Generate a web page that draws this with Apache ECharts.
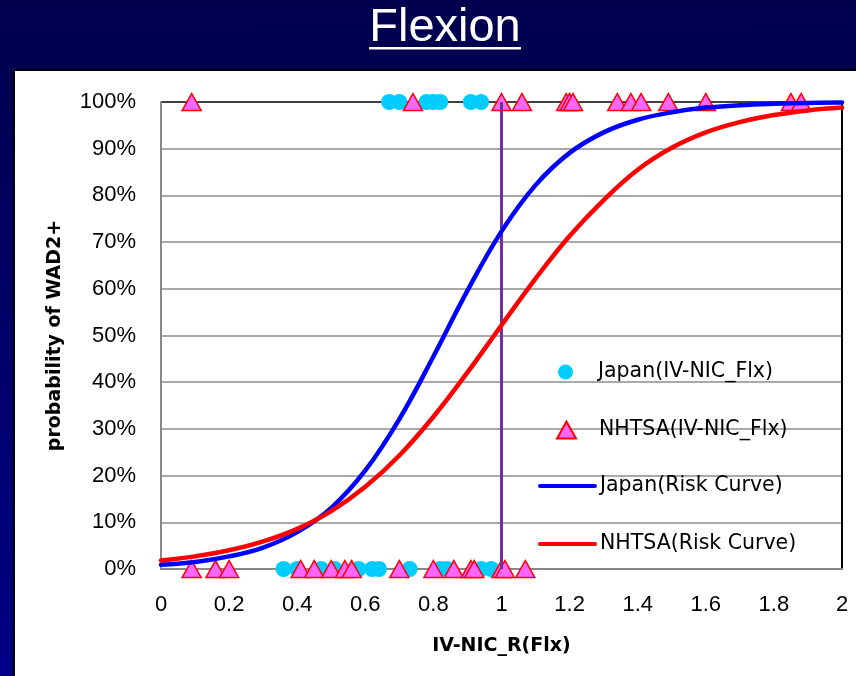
<!DOCTYPE html>
<html>
<head>
<meta charset="utf-8">
<script src="https://cdn.jsdelivr.net/npm/echarts@6/dist/echarts.min.js"></script>
<style>
  html, body { margin: 0; padding: 0; }
  #chart { width: 856px; height: 676px; background: linear-gradient(#00004d, #000086); }
</style>
</head>
<body>
<div id="chart"></div>
<script>
// ---- data ----
const titleText = 'Flexion';
const xAxisName = 'IV-NIC_R(Flx)';
const yAxisName = 'probability of WAD2+';
const seriesNames = ['Japan(IV-NIC_Flx)', 'NHTSA(IV-NIC_Flx)', 'Japan(Risk Curve)', 'NHTSA(Risk Curve)'];

// observed cases (x = IV-NIC_R, y = 1 injured / 0 not injured)
const japanAt100 = [0.67, 0.70, 0.78, 0.80, 0.82, 0.91, 0.94];
const japanAt0   = [0.36, 0.40, 0.47, 0.51, 0.58, 0.62, 0.64, 0.73, 0.82, 0.84, 0.94, 0.97];
const nhtsaAt100 = [0.09, 0.74, 1.00, 1.06, 1.19, 1.20, 1.21, 1.34, 1.38, 1.41, 1.49, 1.60, 1.85, 1.88];
const nhtsaAt0   = [0.09, 0.16, 0.20, 0.41, 0.45, 0.50, 0.54, 0.56, 0.70, 0.80, 0.86, 0.91, 0.92, 1.00, 1.01, 1.07];

// risk curves read at these x positions
const curveX     = [0, 0.1, 0.2, 0.3, 0.4, 0.5, 0.6, 0.7, 0.8, 0.9, 1.0, 1.1, 1.2, 1.3, 1.4, 1.5, 1.6, 1.7, 1.8, 1.9, 2.0];
const japanCurve = [0.009, 0.015, 0.027, 0.046, 0.079, 0.131, 0.211, 0.321, 0.455, 0.596, 0.723, 0.822, 0.891, 0.935, 0.962, 0.978, 0.988, 0.993, 0.996, 0.998, 0.999];
const nhtsaCurve = [0.018, 0.027, 0.040, 0.059, 0.086, 0.124, 0.176, 0.243, 0.326, 0.421, 0.522, 0.622, 0.713, 0.790, 0.855, 0.902, 0.935, 0.957, 0.972, 0.982, 0.988];

// reference line at IV-NIC_R = 1
const refLineX = 1;
const refLineY = [0, 1];

// ---- build chart ----
const pts = (xs, y) => xs.map(x => [x, y]);
const pair = (xs, ys) => xs.map((x, i) => [x, ys[i]]);

const chart = echarts.init(document.getElementById('chart'), null, { renderer: 'canvas' });

const legendText = { color: '#000', fontFamily: 'DejaVu Sans', fontSize: 20.5, lineHeight: 22 };
function legendAt(item, left, centerY, h, extra) {
  return Object.assign({
    data: [item], left: left, top: centerY - 11, padding: 0,
    itemWidth: 55, itemHeight: h, selectedMode: false,
    textStyle: legendText,
    lineStyle: { width: 4, cap: 'round' }
  }, extra || {});
}
const triPath = 'path://M0,17L9.5,0L19,17Z';
const circPath = 'path://M0,8A8,8,0,1,1,16,8A8,8,0,1,1,0,8Z';

const option = {
  animation: false,
  graphic: [
    { type: 'rect', z: -100, shape: { x: 14, y: 70, width: 850, height: 620 },
      style: { fill: '#fff', stroke: '#000', lineWidth: 2 } },
    { type: 'text', x: 445, y: 28, style: { text: titleText, fill: '#fff',
      font: '47px "Liberation Sans", Arial, sans-serif', textAlign: 'center', textVerticalAlign: 'middle' } },
    { type: 'rect', shape: { x: 369, y: 47, width: 152, height: 2.5 }, style: { fill: '#fff' } }
  ],
  grid: { left: 161, top: 102, width: 681, height: 467, show: true, backgroundColor: '#fff', borderWidth: 0 },
  legend: [
    legendAt({ name: seriesNames[0], icon: circPath }, 558, 372, 15),
    legendAt({ name: seriesNames[1], icon: triPath }, 556, 430, 17),
    legendAt(seriesNames[2], 538, 486, 14, { itemStyle: { opacity: 0 } }),
    legendAt(seriesNames[3], 538, 544, 14, { itemStyle: { opacity: 0 } })
  ],
  xAxis: {
    type: 'value', min: 0, max: 2, interval: 0.2,
    name: xAxisName, nameLocation: 'middle', nameGap: 68,
    nameTextStyle: { color: '#000', fontFamily: 'DejaVu Sans', fontWeight: 'bold', fontSize: 19 },
    axisLine: { show: true, lineStyle: { color: '#888', width: 2 } },
    axisTick: { show: false },
    axisLabel: { color: '#000', fontFamily: '"Liberation Sans", Arial, sans-serif', fontSize: 22, margin: 25 },
    splitLine: { show: true, lineStyle: { width: 2,
      color: ['rgba(0,0,0,0)','rgba(0,0,0,0)','rgba(0,0,0,0)','rgba(0,0,0,0)','rgba(0,0,0,0)','rgba(0,0,0,0)',
              'rgba(0,0,0,0)','rgba(0,0,0,0)','rgba(0,0,0,0)','rgba(0,0,0,0)','#000'] } }
  },
  yAxis: {
    type: 'value', min: 0, max: 1, interval: 0.1,
    name: yAxisName, nameLocation: 'middle', nameGap: 96,
    nameTextStyle: { color: '#000', fontFamily: 'DejaVu Sans', fontWeight: 'bold', fontSize: 19 },
    axisLine: { show: true, lineStyle: { color: '#888', width: 2 } },
    axisTick: { show: false },
    axisLabel: { color: '#000', fontFamily: '"Liberation Sans", Arial, sans-serif', fontSize: 22, margin: 25,
      formatter: v => Math.round(v * 100) + '%' },
    splitLine: { show: true, lineStyle: { width: 1.5,
      color: ['#8c8c8c','#8c8c8c','#8c8c8c','#8c8c8c','#8c8c8c','#8c8c8c','#8c8c8c','#8c8c8c','#8c8c8c','#8c8c8c','#000'] } }
  },
  series: [
    { name: seriesNames[0], type: 'scatter', clip: false, symbol: 'circle', symbolSize: 16,
      itemStyle: { color: '#00CCFF', opacity: 1 },
      data: pts(japanAt100, 1).concat(pts(japanAt0, 0)), z: 2 },
    { name: seriesNames[1], type: 'scatter', clip: false, symbol: 'triangle', symbolSize: [19, 17],
      itemStyle: { color: '#FF66FF', borderColor: '#FF0000', borderWidth: 1.5, opacity: 1 },
      data: pts(nhtsaAt100, 1).concat(pts(nhtsaAt0, 0)), z: 2 },
    { name: 'ref', type: 'line', symbol: 'none', silent: true, z: 3,
      lineStyle: { color: '#7030A0', width: 3 }, itemStyle: { color: '#7030A0' },
      data: refLineY.map(y => [refLineX, y]) },
    { name: seriesNames[2], type: 'line', symbol: 'none', smooth: 0.4, z: 4,
      lineStyle: { color: '#0000FF', width: 4.5, cap: 'round' }, itemStyle: { color: '#0000FF' },
      data: pair(curveX, japanCurve) },
    { name: seriesNames[3], type: 'line', symbol: 'none', smooth: 0.4, z: 4,
      lineStyle: { color: '#FF0000', width: 4.5, cap: 'round' }, itemStyle: { color: '#FF0000' },
      data: pair(curveX, nhtsaCurve) }
  ]
};
chart.setOption(option);
</script>
</body>
</html>
